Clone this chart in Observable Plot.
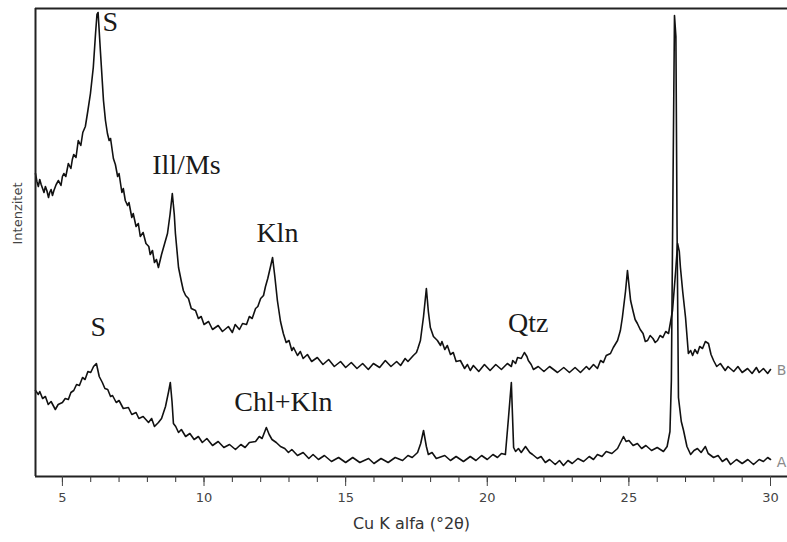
<!DOCTYPE html>
<html>
<head>
<meta charset="utf-8">
<script src="https://cdn.jsdelivr.net/npm/d3@7"></script>
<script src="https://cdn.jsdelivr.net/npm/@observablehq/plot@0.6"></script>
<style>
  html, body { margin: 0; padding: 0; background: #fff; overflow: hidden; }
  #chart svg { display: block; }
</style>
</head>
<body>
<div id="chart"></div>
<script>
// ---- Data: [2θ (degrees), intensity (arbitrary units)] ----
const scanB = [
[4.05,303],[4.1,295],[4.15,290],[4.2,297],[4.25,292],[4.35,284],[4.4,290],[4.45,286],[4.51,279],[4.55,284],
[4.6,287],[4.65,281],[4.7,286],[4.78,292],[4.86,296],[4.95,291],[5.0,300],[5.05,303],[5.12,300],[5.21,313],
[5.3,308],[5.35,317],[5.4,322],[5.48,319],[5.56,336],[5.65,331],[5.72,344],[5.81,350],[5.9,366],[5.99,383],
[6.09,409],[6.17,443],[6.22,462],[6.26,464],[6.34,426],[6.45,376],[6.52,356],[6.59,343],[6.65,336],[6.7,338],
[6.8,318],[6.87,312],[6.95,300],[7.0,303],[7.1,284],[7.15,288],[7.22,276],[7.3,271],[7.35,274],[7.45,259],
[7.5,263],[7.6,250],[7.68,253],[7.75,240],[7.85,244],[7.95,233],[8.05,230],[8.1,222],[8.18,226],[8.25,214],
[8.32,217],[8.39,209],[8.5,222],[8.6,232],[8.71,243],[8.8,262],[8.88,283],[8.95,262],[8.99,243],[9.1,209],
[9.2,195],[9.27,186],[9.35,181],[9.45,178],[9.55,168],[9.7,166],[9.8,158],[9.9,160],[10.0,152],[10.16,155],
[10.3,147],[10.5,151],[10.65,145],[10.86,150],[11.0,144],[11.1,152],[11.25,147],[11.36,153],[11.5,152],[11.6,160],
[11.7,158],[11.82,168],[11.9,170],[12.0,178],[12.1,181],[12.17,190],[12.25,198],[12.34,209],[12.42,219],[12.5,200],
[12.59,176],[12.7,155],[12.8,143],[12.9,134],[13.0,136],[13.1,126],[13.16,129],[13.3,121],[13.4,125],[13.5,118],
[13.65,122],[13.8,115],[14.0,119],[14.2,112],[14.4,117],[14.6,110],[14.82,115],[15.0,109],[15.2,114],[15.4,108],
[15.6,113],[15.8,107],[15.98,113],[16.2,109],[16.4,116],[16.6,110],[16.8,115],[16.94,111],[17.1,118],[17.2,115],
[17.39,121],[17.5,124],[17.55,128],[17.64,136],[17.75,160],[17.85,188],[17.92,165],[17.99,149],[18.1,140],[18.24,136],
[18.35,131],[18.4,135],[18.5,127],[18.59,131],[18.7,122],[18.8,124],[18.9,115],[19.05,116],[19.2,108],[19.3,112],
[19.4,106],[19.51,111],[19.7,105],[19.9,112],[20.1,106],[20.3,112],[20.5,107],[20.71,113],[20.85,110],[20.9,116],
[21.0,113],[21.07,119],[21.2,118],[21.31,124],[21.4,120],[21.45,116],[21.55,112],[21.63,107],[21.8,110],[22.0,105],
[22.2,110],[22.48,104],[22.7,109],[22.9,104],[23.1,109],[23.29,104],[23.5,110],[23.6,107],[23.75,112],[23.89,108],
[24.0,116],[24.1,114],[24.2,121],[24.35,123],[24.45,129],[24.6,136],[24.7,146],[24.77,159],[24.88,185],[24.95,206],
[25.06,176],[25.15,165],[25.22,157],[25.3,153],[25.4,147],[25.5,143],[25.58,135],[25.66,136],[25.75,141],[25.85,138],
[25.93,134],[26.01,136],[26.1,141],[26.2,139],[26.3,145],[26.4,143],[26.54,166],[26.65,205],[26.72,233],[26.78,225],
[26.82,209],[26.9,185],[27.0,159],[27.1,123],[27.18,126],[27.25,121],[27.33,127],[27.42,123],[27.5,130],[27.6,128],
[27.7,135],[27.81,133],[27.9,122],[27.99,116],[28.1,110],[28.23,113],[28.4,106],[28.5,110],[28.7,105],[28.85,110],
[29.0,104],[29.19,108],[29.35,103],[29.5,109],[29.6,104],[29.75,108],[29.9,103],[30.0,107]
];
const scanA = [
[4.05,86],[4.15,82],[4.2,85],[4.3,78],[4.4,80],[4.5,72],[4.6,75],[4.75,67],[4.85,72],[5.0,74],
[5.1,78],[5.21,77],[5.3,84],[5.4,86],[5.5,92],[5.6,91],[5.71,99],[5.8,97],[5.9,105],[6.0,104],
[6.1,110],[6.2,113],[6.3,100],[6.41,94],[6.5,88],[6.6,87],[6.7,80],[6.77,81],[6.9,74],[7.0,76],
[7.15,68],[7.33,69],[7.45,62],[7.6,64],[7.7,58],[7.85,60],[8.04,54],[8.15,58],[8.25,50],[8.39,54],
[8.5,58],[8.64,70],[8.75,85],[8.81,94],[8.87,75],[8.92,53],[9.0,50],[9.1,44],[9.2,47],[9.35,40],
[9.5,43],[9.65,37],[9.8,40],[9.94,34],[10.1,38],[10.3,31],[10.5,35],[10.7,29],[10.9,32],[11.11,27],
[11.3,32],[11.45,29],[11.6,34],[11.82,35],[11.95,40],[12.05,38],[12.2,49],[12.3,42],[12.4,37],[12.55,34],
[12.7,30],[12.85,28],[12.98,24],[13.1,27],[13.3,21],[13.5,24],[13.7,18],[13.85,22],[14.04,17],[14.25,21],
[14.5,15],[14.75,19],[15.0,14],[15.25,19],[15.5,14],[15.81,18],[16.0,13],[16.25,18],[16.5,14],[16.75,19],
[17.01,16],[17.2,21],[17.35,19],[17.54,24],[17.65,33],[17.75,46],[17.85,30],[17.92,22],[18.05,24],[18.2,18],
[18.5,21],[18.7,16],[18.9,20],[19.16,15],[19.4,20],[19.6,16],[19.8,21],[20.0,17],[20.2,22],[20.36,19],
[20.5,23],[20.64,22],[20.75,59],[20.85,94],[20.93,29],[21.0,25],[21.1,28],[21.2,24],[21.35,30],[21.5,24],
[21.6,22],[21.77,18],[21.9,20],[22.05,14],[22.2,17],[22.4,12],[22.55,16],[22.69,11],[22.85,16],[23.0,13],
[23.2,18],[23.4,15],[23.6,20],[23.75,17],[23.89,22],[24.05,20],[24.2,25],[24.4,23],[24.6,28],[24.81,40],
[24.9,35],[25.0,36],[25.15,31],[25.3,33],[25.45,28],[25.6,31],[25.8,26],[26.0,29],[26.22,25],[26.35,30],
[26.45,45],[26.5,96],[26.56,300],[26.61,461],[26.66,440],[26.7,250],[26.75,79],[26.85,55],[26.93,46],[27.05,30],
[27.18,22],[27.3,26],[27.42,28],[27.55,24],[27.7,30],[27.8,23],[27.99,19],[28.15,21],[28.3,15],[28.45,18],
[28.59,12],[28.8,17],[29.0,13],[29.2,17],[29.4,12],[29.6,17],[29.75,15],[29.9,19],[30.0,17]
];

const sampleNames = ["B", "A"];
const sampleLabelTheta = [30.22, 30.22];
const sampleLabelIntensity = [106, 14];

const peakNames = ["S", "Ill/Ms", "Kln", "Qtz", "S", "Chl+Kln"];
const peakTheta = [6.69, 9.38, 12.59, 21.45, 6.27, 12.8];
const peakIntensity = [454, 311, 243, 153, 149, 74];

const majorTicks = [5, 10, 15, 20, 25, 30];
const minorTicks = d3.range(5, 31);
const xLabel = "Cu K alfa (°2θ)";
const yLabel = "Intenzitet";

// ---- Tables built from the arrays ----
const dataB = scanB.map(([t, v]) => ({t, v}));
const dataA = scanA.map(([t, v]) => ({t, v}));
const samples = sampleNames.map((n, i) => ({n, t: sampleLabelTheta[i], v: sampleLabelIntensity[i]}));
const peaks = peakNames.map((n, i) => ({n, t: peakTheta[i], v: peakIntensity[i]}));

const xMin = 4.05, xMax = 30.6, yMin = 0, yMax = 468;

const chart = Plot.plot({
  width: 787,
  height: 542,
  marginLeft: 35,
  marginRight: 0,
  marginTop: 8,
  marginBottom: 66,
  style: {fontFamily: "DejaVu Sans, sans-serif", background: "#fff", overflow: "visible"},
  x: {domain: [xMin, xMax]},
  y: {domain: [yMin, yMax], axis: null},
  marks: [
    Plot.line(dataB, {x: "t", y: "v", stroke: "#111", strokeWidth: 1.6, strokeLinejoin: "round"}),
    Plot.line(dataA, {x: "t", y: "v", stroke: "#111", strokeWidth: 1.6, strokeLinejoin: "round"}),
    Plot.ruleX([xMin], {stroke: "#222", strokeWidth: 2}),
    Plot.ruleY([yMin, yMax], {stroke: "#222", strokeWidth: 2}),
    Plot.axisX({ticks: minorTicks, tickSize: 6, tickFormat: () => "", color: "#333", label: null}),
    Plot.axisX({ticks: majorTicks, tickSize: 10, tickPadding: 6, fontSize: 13, color: "#444", label: null}),
    Plot.text([xLabel], {frameAnchor: "bottom", lineAnchor: "middle", textAnchor: "middle", dy: 47, fontSize: 16, fill: "#333", text: d => d}),
    Plot.text([yLabel], {frameAnchor: "left", textAnchor: "middle", lineAnchor: "middle", dx: -18, y: [263], rotate: -90, fontSize: 13, fill: "#444", text: d => d}),
    Plot.text(peaks, {x: "t", y: "v", text: "n", fontFamily: "Liberation Serif, serif", fontSize: 28, fill: "#1a1a1a"}),
    Plot.text(samples, {x: "t", y: "v", text: "n", textAnchor: "start", fontSize: 14, fill: "#8a8a8a"})
  ]
});
document.getElementById("chart").appendChild(chart);
</script>
</body>
</html>
